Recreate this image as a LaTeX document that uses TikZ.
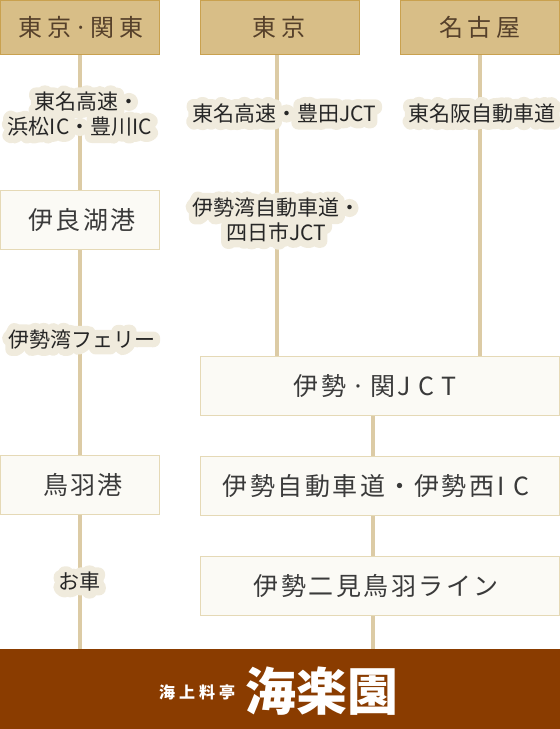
\documentclass[tikz,border=0pt]{standalone}
\usepackage{fontspec}
\setmainfont{Noto Sans CJK JP}
\newfontfamily\halofont[FakeBold=65]{Noto Sans CJK JP}
\newfontfamily\spacedfont[LetterSpace=20]{Noto Sans CJK JP}
\newfontfamily\wideboxfont[LetterSpace=10]{Noto Sans CJK JP}
\newfontfamily\sublogofont[LetterSpace=25]{Noto Sans CJK JP}
\usetikzlibrary{positioning}
\pgfdeclarelayer{bgA}
\pgfsetlayers{bgA,main}
\definecolor{gHead}  {HTML}{D8BE87}
\definecolor{gHeadLn}{HTML}{C9A14F}
\definecolor{gHeadTx}{HTML}{55402A}
\definecolor{gStop}  {HTML}{FBFAF5}
\definecolor{gStopLn}{HTML}{E5D9B6}
\definecolor{gStopTx}{HTML}{3A3A3A}
\definecolor{gRoad}  {HTML}{DCCBA5}
\definecolor{gHalo}  {HTML}{F0EBDD}
\definecolor{gFoot}  {HTML}{8A3C00}
\definecolor{gLabel} {HTML}{262626}
\newcommand{\halotext}[1]{\special{pdf:code 1 j 1 J}\rlap{\halofont\textcolor{gHalo}{#1}}#1}

\begin{document}
\begin{tikzpicture}[
  x=1pt, y=-1pt,
  hdr/.style={draw=gHeadLn, fill=gHead, line width=1pt, outer sep=0pt, inner sep=0pt,
              minimum width=159pt, minimum height=54pt, text=gHeadTx,
              font=\fontsize{24}{28}\spacedfont},
  stp/.style={draw=gStopLn, fill=gStop, line width=1pt, outer sep=0pt, inner sep=0pt,
              minimum width=159pt, minimum height=59pt, text=gStopTx,
              font=\fontsize{25}{28}\wideboxfont},
  wid/.style={stp, minimum width=359pt},
  lbl/.style={align=center, inner sep=0pt, text=gLabel, font=\fontsize{21}{25}\selectfont},
  ar/.style={draw=gRoad, line width=4pt},
]
\useasboundingbox (0,0) rectangle (560,729);

% ---- departure headers
\node[hdr] at (80,27.5)  (hdrA) {\kern2pt 東京\kern3pt·\kern3pt 関東};
\node[hdr] at (280,27.5) (hdrB) {東京\kern2pt};
\node[hdr] at (480,27.5) (hdrC) {名古屋};

% ---- stops
\node[stp] at (80,220)  (irago) {\kern4pt 伊良湖港};
\node[stp] at (80,485)  (toba)  {\kern6pt 鳥羽港};
\node[wid] at (380,386) (seki)  {伊勢\kern5pt·\kern5pt 関J\kern7pt C\kern7pt T\kern10pt};
\node[wid] at (380,486) (isew)  {伊勢自動車道\kern2pt・\kern2pt 伊勢西\kern3pt I\kern9pt C\kern8pt};
\node[wid] at (380,586) (futa)  {伊勢二見鳥羽ライン\kern8pt};

% ---- footer
\node[fill=gFoot, minimum width=560pt, minimum height=80pt, inner sep=0pt, outer sep=0pt] at (280,689) (foot) {};
\node[text=white, inner sep=0pt, font=\fontsize{16}{18}\sublogofont\bfseries] at (197,692) (sublogo) {海上料亭};
\node[text=white, inner sep=0pt, font=\fontsize{51}{54}\selectfont\bfseries] at (322,691) (logo) {海楽園};

% ---- road labels
\node[lbl] at (80,114.5) (tomeiA) {\hspace*{14pt}\halotext{東名高速・}\\\halotext{浜松IC・豊川IC}};
\node[lbl] at (284,113.5) (tomeiB) {\halotext{東名高速・豊田JCT}};
\node[lbl] at (482,113.5) (tomeiC) {\halotext{東名阪自動車道}};
\node[lbl] at (276,220.5) (isewan) {\halotext{伊勢湾自動車道・}\\\halotext{四日市JCT}};
\node[lbl] at (82,339.5)  (ferry)  {\halotext{伊勢湾フェリー}};
\node[lbl] at (79,582)    (car)    {\halotext{お車}};

% ---- arrows
\coordinate (roadA) at (80,0);
\coordinate (roadB) at (277,0);
\coordinate (roadC) at (480,0);
\coordinate (roadD) at (373,0);
\begin{pgfonlayer}{bgA}
  \draw[ar] (roadA |- hdrA.south) -- (roadA |- irago.north);
  \draw[ar] (roadA |- irago.south) -- (roadA |- toba.north);
  \draw[ar] (roadA |- toba.south) -- (roadA |- foot.north);
  \draw[ar] (roadB |- hdrB.south) -- (roadB |- seki.north);
  \draw[ar] (roadC |- hdrC.south) -- (roadC |- seki.north);
  \draw[ar] (roadD |- seki.south) -- (roadD |- isew.north);
  \draw[ar] (roadD |- isew.south) -- (roadD |- futa.north);
  \draw[ar] (roadD |- futa.south) -- (roadD |- foot.north);
\end{pgfonlayer}

\end{tikzpicture}
\end{document}
